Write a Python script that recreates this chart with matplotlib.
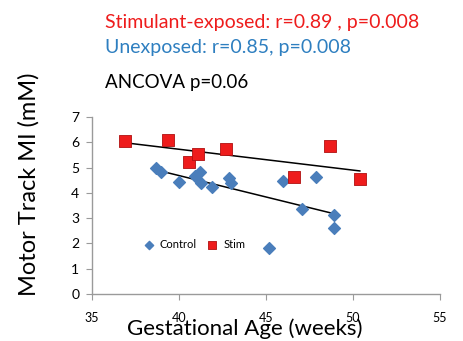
import matplotlib
matplotlib.use("Agg")
import matplotlib.pyplot as plt
import numpy as np

# Stimulant-exposed group (red squares)
stim_age = [36.9, 39.4, 40.6, 41.1, 42.7, 46.6, 48.7, 50.4]
stim_mi = [6.03, 6.10, 5.22, 5.53, 5.74, 4.62, 5.84, 4.53]

# Unexposed controls (blue diamonds)
ctrl_age = [38.7, 39.0, 40.0, 40.9, 41.2, 41.3, 41.9, 42.9, 43.0,
            45.2, 46.0, 47.1, 47.9, 48.9, 48.9]
ctrl_mi = [4.98, 4.82, 4.44, 4.68, 4.81, 4.37, 4.22, 4.58, 4.40,
           1.80, 4.48, 3.36, 4.64, 3.11, 2.60]

x_ticks = [35, 40, 45, 50, 55]
y_ticks = [0, 1, 2, 3, 4, 5, 6, 7]

STIM_COLOR = "#ee1c1c"
CTRL_COLOR = "#4a7ebb"
AXIS_COLOR = "#9a9a9a"

plt.rcParams["font.family"] = ["Lato", "DejaVu Sans"]

fig = plt.figure(figsize=(4.64, 3.41), dpi=100)
ax = fig.add_axes([0.198, 0.138, 0.750, 0.519])

ax.scatter(ctrl_age, ctrl_mi, marker="D", s=36, color=CTRL_COLOR,
           edgecolors=CTRL_COLOR, label="Control", zorder=3)
ax.scatter(stim_age, stim_mi, marker="s", s=70, color=STIM_COLOR,
           edgecolors="#b01010", linewidths=0.6, label="Stim", zorder=3)

# linear trend lines over each group's range
for xs, ys in [(stim_age, stim_mi), (ctrl_age, ctrl_mi)]:
    xs = np.asarray(xs)
    slope, icpt = np.polyfit(xs, ys, 1)
    xl = np.array([xs.min(), xs.max()])
    ax.plot(xl, slope * xl + icpt, color="black", linewidth=1.1, zorder=2)

ax.set_xlim(35, 55)
ax.set_ylim(0, 7)
ax.set_xticks(x_ticks)
ax.set_yticks(y_ticks)
ax.tick_params(axis="y", direction="out", length=4, color=AXIS_COLOR,
               labelsize=10, pad=5)
ax.tick_params(axis="x", direction="out", length=4, color=AXIS_COLOR,
               labelsize=9, pad=9)

for side in ["top", "right"]:
    ax.spines[side].set_visible(False)
for side in ["left", "bottom"]:
    ax.spines[side].set_color(AXIS_COLOR)
    ax.spines[side].set_linewidth(1.0)

ax.legend(loc="center left", bbox_to_anchor=(0.115, 0.28), frameon=False,
          fontsize=8, ncol=2, handletextpad=0.0, columnspacing=0.4,
          borderpad=0, markerscale=0.7)

fig.text(0.528, 0.037, "Gestational Age (weeks)", ha="center", va="center",
         fontsize=16)
fig.text(0.063, 0.46, "Motor Track MI (mM)", ha="center", va="center",
         rotation=90, fontsize=17)

fig.text(0.226, 0.933, "Stimulant-exposed: r=0.89 , p=0.008",
         color=STIM_COLOR, fontsize=14, va="center")
fig.text(0.226, 0.862, "Unexposed: r=0.85, p=0.008",
         color="#2e7fc0", fontsize=14, va="center")
fig.text(0.226, 0.758, "ANCOVA p=0.06", color="black", fontsize=13.5,
         va="center")

fig.savefig("out.png", dpi=100)
